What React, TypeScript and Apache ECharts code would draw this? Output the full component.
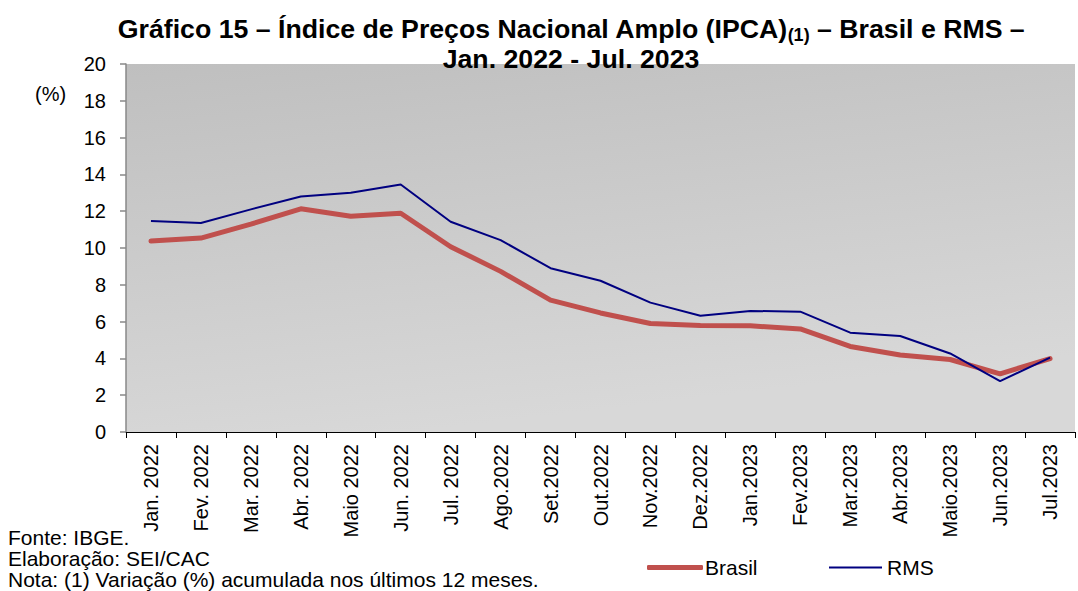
import React, { useEffect, useRef } from "react";
import * as echarts from "echarts";

const categories = [
  "Jan. 2022", "Fev. 2022", "Mar. 2022", "Abr. 2022", "Maio 2022", "Jun. 2022",
  "Jul. 2022", "Ago.2022", "Set.2022", "Out.2022", "Nov.2022", "Dez.2022",
  "Jan.2023", "Fev.2023", "Mar.2023", "Abr.2023", "Maio.2023", "Jun.2023", "Jul.2023",
];
const brasil = [10.38, 10.54, 11.30, 12.13, 11.73, 11.89, 10.07, 8.73, 7.17, 6.47, 5.90, 5.79, 5.77, 5.60, 4.65, 4.18, 3.94, 3.16, 3.99];
const rms = [11.47, 11.36, 12.10, 12.80, 13.00, 13.45, 11.43, 10.43, 8.90, 8.22, 7.03, 6.32, 6.58, 6.54, 5.40, 5.22, 4.27, 2.77, 4.04];
const footerLines = [
  "Fonte: IBGE.",
  "Elaboração: SEI/CAC",
  "Nota: (1) Variação (%) acumulada nos últimos 12 meses.",
];

const FONT = "'Liberation Sans', Arial, sans-serif";

export default function App() {
  const ref = useRef<HTMLDivElement>(null);
  useEffect(() => {
    if (!ref.current) return;
    const chart = echarts.init(ref.current, undefined, { renderer: "svg" });
    chart.setOption({
      animation: false,
      backgroundColor: "#ffffff",
      textStyle: { fontFamily: FONT },
      title: {
        left: 571,
        top: 14,
        textAlign: "center",
        padding: 0,
        text:
          "{b|Gráfico 15 – Índice de Preços Nacional Amplo (IPCA)}{s|(1)}{b| – Brasil e RMS –}\n{b|Jan. 2022 - Jul. 2023}",
        textStyle: {
          rich: {
            b: { fontFamily: FONT, fontWeight: "bold", fontSize: 26.7, color: "#000", lineHeight: 30 },
            s: { fontFamily: FONT, fontWeight: "bold", fontSize: 18, color: "#000", lineHeight: 30, verticalAlign: "bottom" },
          },
        },
      },
      legend: [
        {
          data: ["Brasil"],
          left: 647,
          top: 557,
          icon: "roundRect",
          itemWidth: 56,
          itemHeight: 5,
          itemGap: 0,
          padding: 0,
          textStyle: { fontFamily: FONT, fontSize: 21, color: "#000", padding: [0, 0, 0, -3] },
        },
        {
          data: ["RMS"],
          left: 829,
          top: 557,
          icon: "rect",
          itemWidth: 53,
          itemHeight: 2,
          itemGap: 0,
          padding: 0,
          textStyle: { fontFamily: FONT, fontSize: 21, color: "#000" },
        },
      ],
      grid: {
        left: 126,
        right: 3,
        top: 64,
        bottom: 159,
        show: true,
        borderWidth: 0,
        backgroundColor: new echarts.graphic.LinearGradient(0, 0, 0.3, 1, [
          { offset: 0, color: "#bfbfbf" },
          { offset: 1, color: "#d8d8d8" },
        ]),
      },
      xAxis: {
        type: "category",
        data: categories,
        boundaryGap: true,
        axisLine: { show: true, lineStyle: { color: "#000", width: 1 } },
        axisTick: { show: true, length: 6, lineStyle: { color: "#000" }, alignWithLabel: false },
        axisLabel: {
          rotate: 90,
          interval: 0,
          fontFamily: FONT,
          fontSize: 20,
          color: "#000",
          margin: 12,
        },
        splitLine: { show: false },
      },
      yAxis: {
        type: "value",
        min: 0,
        max: 20,
        interval: 2,
        axisLine: { show: true, lineStyle: { color: "#888", width: 1.5 } },
        axisTick: { show: true, length: 6, lineStyle: { color: "#888", width: 1.5 } },
        axisLabel: { fontFamily: FONT, fontSize: 20, color: "#000", margin: 20 },
        splitLine: { show: false },
      },
      graphic: [
        { type: "text", x: 35, y: 94, style: { text: "(%)", font: `20px ${FONT}`, fill: "#000", verticalAlign: "middle" } },
        {
          type: "text",
          x: 8,
          y: 527.5,
          style: {
            text: footerLines.join("\n"),
            fontFamily: FONT,
            fontSize: 21,
            lineHeight: 20.8,
            fill: "#000",
            verticalAlign: "top",
          },
        },
      ],
      series: [
        {
          name: "Brasil",
          type: "line",
          data: brasil,
          symbol: "none",
          lineStyle: { color: "#c0504d", width: 5, cap: "round", join: "round" },
          itemStyle: { color: "#c0504d" },
          z: 2,
        },
        {
          name: "RMS",
          type: "line",
          data: rms,
          symbol: "none",
          lineStyle: { color: "#000080", width: 2 },
          itemStyle: { color: "#000080" },
          z: 3,
        },
      ],
    });
    return () => chart.dispose();
  }, []);
  return <div ref={ref} style={{ width: 1078, height: 591, position: "absolute", left: 0, top: 0 }} />;
}
